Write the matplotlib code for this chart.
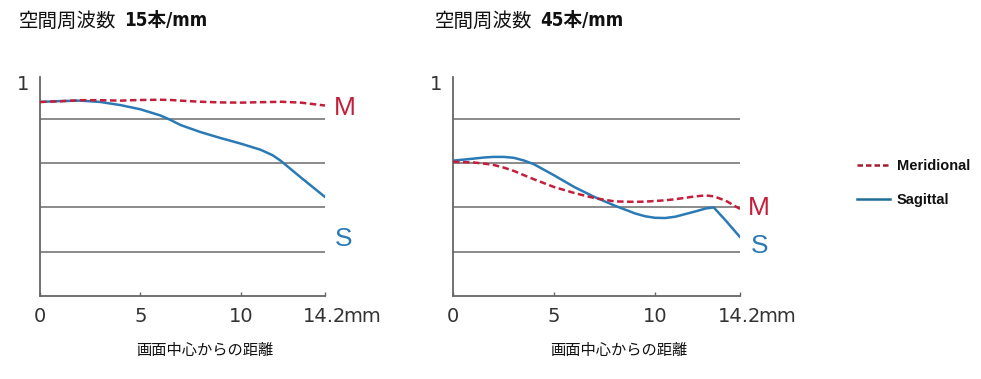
import matplotlib
matplotlib.use("Agg")
import matplotlib.pyplot as plt

plt.rcParams['font.family'] = ['Noto Sans CJK JP', 'DejaVu Sans']

# distance from image centre (mm)
x_15 = [0, 1, 2, 3, 4, 5, 6, 6.5, 7, 8, 9, 10, 11, 11.6, 12, 13, 14.2]
m_15 = [0.876, 0.879, 0.884, 0.884, 0.882, 0.885, 0.886, 0.885, 0.882, 0.877, 0.874, 0.873, 0.875,
        0.876, 0.877, 0.873, 0.860]
s_15 = [0.876, 0.880, 0.882, 0.876, 0.862, 0.843, 0.815, 0.795, 0.772, 0.740, 0.713, 0.688, 0.660,
        0.635, 0.610, 0.535, 0.447]

x_45 = [0, 1, 1.5, 2, 2.5, 3, 3.5, 4, 5, 6, 7, 8, 9, 9.5, 10, 10.5, 11, 12, 12.5, 12.9, 13.5, 14.2]
m_45 = [0.606, 0.603, 0.598, 0.592, 0.580, 0.565, 0.546, 0.527, 0.492, 0.465, 0.442, 0.427, 0.425,
        0.426, 0.429, 0.432, 0.437, 0.450, 0.454, 0.450, 0.430, 0.393]
s_45 = [0.611, 0.620, 0.625, 0.628, 0.628, 0.624, 0.612, 0.595, 0.545, 0.492, 0.447, 0.408, 0.373,
        0.360, 0.353, 0.352, 0.358, 0.382, 0.395, 0.400, 0.340, 0.266]

titles = [('空間周波数', '15本/mm'), ('空間周波数', '45本/mm')]
xticks = [0, 5, 10, 14.2]
xtick_labels = ['0', '5', '10', '14.2']
grid_y = [0.2, 0.4, 0.6, 0.8]
xlabel = '画面中心からの距離'

RED = '#c41e3a'
BLUE = '#2a7ab5'
W, H = 981, 379


def px(x, y):
    return x / W, 1 - y / H


fig = plt.figure(figsize=(W / 100, H / 100), dpi=100)


def panel(left_px, right_px, xs, m, s, title, title_x, xlabel_x, m_pos, s_pos):
    l, b = px(left_px, 296)
    ax = fig.add_axes([l, b, (right_px - left_px) / W, 221.5 / H])
    ax.set_xlim(0, 14.2)
    ax.set_ylim(0, 1)
    for sp in ['top', 'right']:
        ax.spines[sp].set_visible(False)
    for sp in ['left', 'bottom']:
        ax.spines[sp].set_color('#666666')
        ax.spines[sp].set_linewidth(1.3)
    ax.spines['left'].set_bounds(0, 0.99)
    for g in grid_y:
        ax.axhline(g, color='#777777', lw=1.2, zorder=1)
    ax.plot(xs, s, color=BLUE, lw=1.8, zorder=3, solid_capstyle='round', solid_joinstyle='round')
    ax.plot(xs, m, color=RED, lw=1.8, dashes=(2.6, 1.4), zorder=4)

    ax.set_xticks(xticks)
    ax.set_xticklabels(xtick_labels, fontsize=14, color='#333333', family='DejaVu Sans')
    ax.tick_params(axis='x', direction='in', length=3, width=1, color='#666666', pad=8)
    ax.set_yticks([1])
    ax.set_yticklabels(['1'], fontsize=14, color='#333333', family='DejaVu Sans')
    ax.tick_params(axis='y', length=0, pad=8)
    ax.get_yticklabels()[0].set_verticalalignment('top')
    ax.annotate('mm', xy=(14.2, 0), xycoords='data', xytext=(13, -8), textcoords='offset points',
                ha='left', va='top', fontsize=14, color='#333333', family='DejaVu Sans')

    fig.text(*px(title_x - 1, 21), title[0], fontsize=14, va='center', ha='left', color='#111111')
    fig.text(*px(title_x + 104, 21), title[1], fontsize=13.5, va='center', ha='left', color='#111111',
             weight='bold', stretch='condensed', family=['DejaVu Sans', 'Noto Sans CJK JP'])
    fig.text(*px(xlabel_x, 351), xlabel, fontsize=11, va='center', ha='center', color='#111111')
    fig.text(*px(*m_pos), 'M', fontsize=19, color=RED, ha='center', va='center', family='Liberation Sans')
    fig.text(*px(*s_pos), 'S', fontsize=19, color=BLUE, ha='center', va='center', family='Liberation Sans')
    return ax


panel(40, 325, x_15, m_15, s_15, titles[0], 20, 205, (345, 108), (344, 239))
panel(453, 740, x_45, m_45, s_45, titles[1], 436, 619, (759, 208), (760, 246))

# legend
fig.add_artist(plt.Line2D([857 / W, 890 / W], [1 - 165 / H] * 2, color='#a51c30', lw=1.8, dashes=(2.2, 1.2)))
fig.add_artist(plt.Line2D([857 / W, 890 / W], [1 - 199 / H] * 2, color='#1f6e96', lw=1.8))
fig.text(*px(897, 166), 'Meridional', fontsize=10.5, weight='bold', va='center', ha='left',
         family='Liberation Sans', color='#111111')
fig.text(*px(897, 200), 'Sagittal', fontsize=10.5, weight='bold', va='center', ha='left',
         family='Liberation Sans', color='#111111')

fig.savefig('out.png', dpi=100)
